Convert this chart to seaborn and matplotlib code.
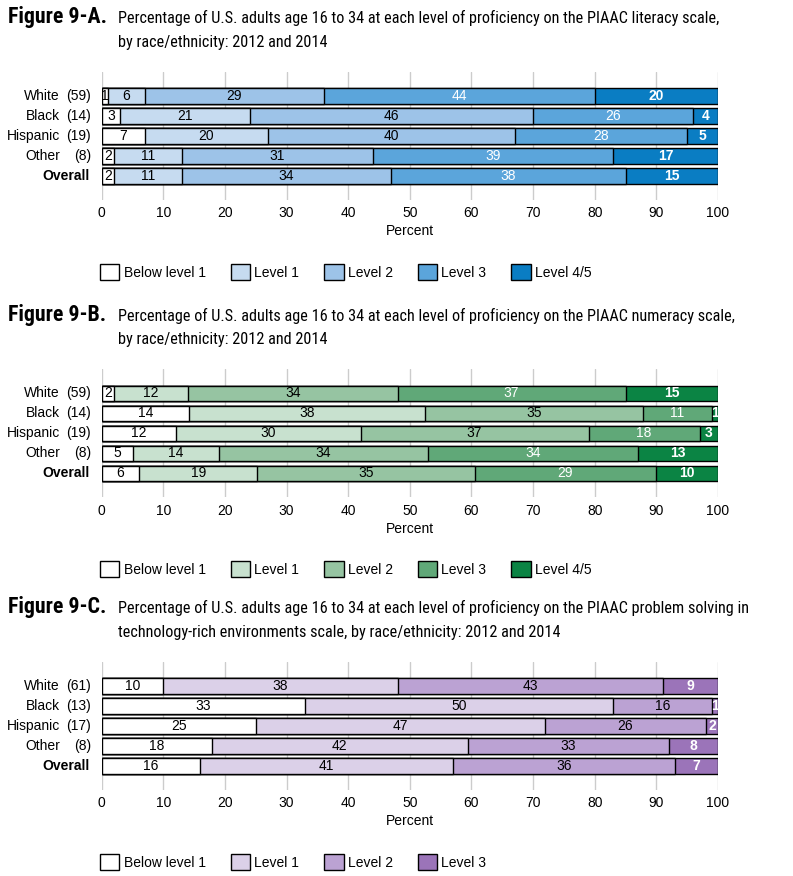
import os
import numpy as np
import pandas as pd
import matplotlib
matplotlib.use('Agg')
import matplotlib.pyplot as plt
import seaborn as sns
from matplotlib.patches import Patch
from matplotlib import font_manager as fm

# ---- dados ----
grupos = ['White', 'Black', 'Hispanic', 'Other', 'Overall']
n_ab = ['(59)', '(14)', '(19)', '(8)', '']
n_c = ['(61)', '(13)', '(17)', '(8)', '']

niveis_ab = ['Below level 1', 'Level 1', 'Level 2', 'Level 3', 'Level 4/5']
niveis_c = ['Below level 1', 'Level 1', 'Level 2', 'Level 3']

# uma linha por grupo, uma coluna por nivel
literacy = [[1, 6, 29, 44, 20],
            [3, 21, 46, 26, 4],
            [7, 20, 40, 28, 5],
            [2, 11, 31, 39, 17],
            [2, 11, 34, 38, 15]]

numeracy = [[2, 12, 34, 37, 15],
            [14, 38, 35, 11, 1],
            [12, 30, 37, 18, 3],
            [5, 14, 34, 34, 13],
            [6, 19, 35, 29, 10]]

problem = [[10, 38, 43, 9],
           [33, 50, 16, 1],
           [25, 47, 26, 2],
           [18, 42, 33, 8],
           [16, 41, 36, 7]]

cores_a = ['#ffffff', '#c6dbf0', '#9dc3e8', '#5ba5db', '#0a7dc3']
cores_b = ['#ffffff', '#c8e1cf', '#96c4a2', '#60a878', '#0b8444']
cores_c = ['#ffffff', '#dbd0e8', '#bba2d3', '#9b74b9']

titulos = [
    ('Figure 9-A.', 'Percentage of U.S. adults age 16 to 34 at each level of proficiency on the PIAAC literacy scale,',
     'by race/ethnicity: 2012 and 2014'),
    ('Figure 9-B.', 'Percentage of U.S. adults age 16 to 34 at each level of proficiency on the PIAAC numeracy scale,',
     'by race/ethnicity: 2012 and 2014'),
    ('Figure 9-C.', 'Percentage of U.S. adults age 16 to 34 at each level of proficiency on the PIAAC problem solving in',
     'technology-rich environments scale, by race/ethnicity: 2012 and 2014'),
]

sns.set_style('white', rc={'text.color': 'black', 'xtick.color': 'black',
                           'axes.labelcolor': 'black'})
plt.rcParams['font.family'] = ['Liberation Sans', 'DejaVu Sans']


# fonte estreita para os titulos, se existir
def acha_fonte(nomes):
    arquivos = {os.path.basename(f.fname): f.fname for f in fm.fontManager.ttflist}
    for n in nomes:
        for base, caminho in arquivos.items():
            if base.startswith(n):
                return caminho
    return None


f_reg = acha_fonte(['LiberationSansNarrow-Regular', 'NotoSans-SemiCondensed.',
                    'NotoSans-Condensed.', 'RobotoCondensed-Regular',
                    'DejaVuSansCondensed.'])
f_bold = acha_fonte(['LiberationSansNarrow-Bold.', 'NotoSans-SemiCondensedBold.',
                     'NotoSans-CondensedBold.', 'RobotoCondensed-Bold.',
                     'DejaVuSansCondensed-Bold.'])


def prop(caminho, peso, tam):
    if caminho:
        return fm.FontProperties(fname=caminho, size=tam)
    return fm.FontProperties(family=['Liberation Sans', 'DejaVu Sans'],
                             weight=peso, size=tam)


W, H = 793, 876
fig = plt.figure(figsize=(W / 100, H / 100), dpi=100)
renderer = fig.canvas.get_renderer()


def fx(px):
    return px / W


def fy(px):
    return 1 - px / H


def ajusta(t, alvo):
    w = t.get_window_extent(renderer).width
    return t.get_fontsize() * alvo / w


# calcula tamanhos dos titulos pela largura da referencia
t1 = fig.text(0, 0, titulos[0][1], fontproperties=prop(f_reg, 'normal', 12))
tam_tit = ajusta(t1, 600)
t1.remove()
t2 = fig.text(0, 0, titulos[0][0], fontproperties=prop(f_bold, 'bold', 12))
tam_fig = ajusta(t2, 99)
t2.remove()

FS = 10


def painel(topo, dados, niveis, cores, ns, titulo, claros):
    fig_lbl, linha1, linha2 = titulo
    base = topo - 48.5
    fig.text(fx(8), fy(base), fig_lbl, fontproperties=prop(f_bold, 'bold', tam_fig),
             va='baseline', ha='left')
    fig.text(fx(118), fy(base), linha1, fontproperties=prop(f_reg, 'normal', tam_tit),
             va='baseline', ha='left')
    fig.text(fx(118), fy(base + 23), linha2, fontproperties=prop(f_reg, 'normal', tam_tit),
             va='baseline', ha='left')

    ax = fig.add_axes([fx(101.7), fy(topo + 128), fx(616.3), 128 / H])
    vals = np.array(dados, dtype=float)
    larg = vals / vals.sum(axis=1, keepdims=True) * 100
    cum = np.cumsum(larg, axis=1)

    # barras empilhadas: desenha do acumulado maior para o menor
    for j in range(len(niveis) - 1, -1, -1):
        df = pd.DataFrame({'grupo': grupos, 'valor': cum[:, j]})
        sns.barplot(data=df, x='valor', y='grupo', orient='h', color=cores[j],
                    saturation=1, width=0.78, edgecolor='black', linewidth=1,
                    ax=ax, zorder=3)

    # rotulos dentro das barras
    for i in range(len(grupos)):
        for j in range(len(niveis)):
            centro = cum[i, j] - larg[i, j] / 2
            escuro = j >= claros
            negrito = j == len(niveis) - 1
            ax.text(centro, i, str(dados[i][j]), ha='center', va='center',
                    fontsize=FS, color='white' if escuro else 'black',
                    fontweight='bold' if (negrito and escuro) else 'normal',
                    zorder=5)

    ax.set_xlim(0, 100)
    ax.set_ylim(5.2, -1.2)
    ax.set_xticks(range(0, 101, 10))
    ax.grid(axis='x', color='#cccccc', linewidth=1, zorder=0)
    ax.set_axisbelow(True)
    ax.tick_params(axis='x', length=0, pad=4.5, labelsize=FS)
    ax.set_yticks([])
    ax.set_ylabel('')
    ax.set_xlabel('Percent', fontsize=FS, labelpad=3)
    sns.despine(ax=ax, left=True, bottom=True)

    # nomes dos grupos e n
    tr = ax.get_yaxis_transform()
    for i, g in enumerate(grupos):
        if g == 'Overall':
            ax.text(-0.019, i, g, transform=tr, ha='right', va='center',
                    fontsize=FS, fontweight='bold')
        else:
            ax.text(-0.0677, i, g, transform=tr, ha='right', va='center', fontsize=FS)
            ax.text(-0.0174, i, ns[i], transform=tr, ha='right', va='center', fontsize=FS)

    # legenda
    handles = [Patch(facecolor=c, edgecolor='black', linewidth=1) for c in cores]
    fig.legend(handles, niveis, loc='center left',
               bbox_to_anchor=(fx(100), fy(topo + 200)), ncol=len(niveis),
               frameon=False, fontsize=FS, handlelength=1.4, handleheight=1.4,
               handletextpad=0.3, columnspacing=1.8, borderpad=0, borderaxespad=0)
    return ax


painel(72, literacy, niveis_ab, cores_a, n_ab, titulos[0], 3)
painel(369.3, numeracy, niveis_ab, cores_b, n_ab, titulos[1], 3)
painel(662, problem, niveis_c, cores_c, n_c, titulos[2], 3)

fig.savefig('out.png', dpi=100)
